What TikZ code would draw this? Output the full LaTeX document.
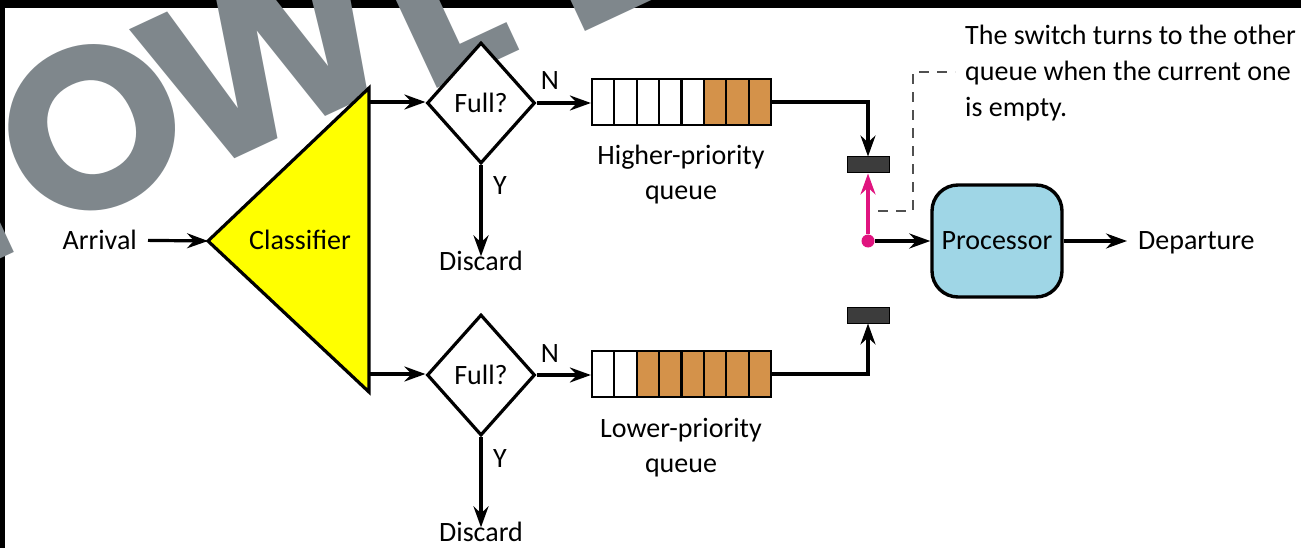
\documentclass[tikz,border=0pt]{standalone}
\usepackage{fontspec}
\setmainfont{Carlito}
\newfontfamily\wmfont{Poppins}
\usetikzlibrary{shapes.geometric,arrows.meta,calc}
\definecolor{wmgray}{HTML}{7F878C}
\definecolor{clsyellow}{HTML}{FFFF00}
\definecolor{qorange}{HTML}{D4924A}
\definecolor{procblue}{HTML}{9FD6E6}
\definecolor{swmag}{HTML}{E0147F}
\definecolor{blockgray}{HTML}{3C3C3C}
\definecolor{dashgray}{HTML}{505050}
\begin{document}
\begin{tikzpicture}[x=1pt,y=-1pt,
  lbl/.style={font=\fontsize{28}{36}\selectfont, inner sep=0pt},
  tip/.style={-{Stealth[length=21pt,width=15pt,inset=7pt]}},
  arw/.style={line width=3.2pt, tip},
  dia/.style={diamond, draw, line width=3.2pt, fill=white, minimum width=108pt, minimum height=121pt, inner sep=0pt, font=\fontsize{28}{34}\selectfont},
  queuebox/.style={draw, line width=2.2pt, minimum width=179pt, minimum height=46pt, inner sep=0pt},
  swblock/.style={draw=black, fill=blockgray, line width=1pt, minimum width=42pt, minimum height=16pt, inner sep=0pt},
  procbox/.style={draw, line width=3.4pt, fill=procblue, rounded corners=26pt, minimum width=130pt, minimum height=112pt, inner sep=0pt, font=\fontsize{28}{34}\selectfont},
  wm/.style={text=wmgray, font=\wmfont\bfseries\fontsize{230}{230}\selectfont, rotate=25, inner sep=0pt},
  dsh/.style={line width=2.4pt, draw=dashgray, dash pattern=on 10pt off 8pt}
]
\useasboundingbox (0,0) rectangle (1301,548);
\fill[white] (0,0) rectangle (1301,548);
\fill[black] (0,0) rectangle (1301,8);
\fill[black] (0,0) rectangle (5,548);
% watermark
\node[wm] (wmN) at (-85,210) {N};
\node[wm] (wmO) at (92,128) {O};
\node[wm] (wmW) at (268,54) {W};
\node[wm] (wmL) at (440,-2) {L};
\node[wm] (wmE) at (595,-62) {E};
% classifier
\coordinate (apex) at (208,241);
\draw[line width=3.2pt, fill=clsyellow, line join=miter] (369,88) -- (apex) -- (369,392) -- cycle;
\node[lbl, anchor=base] (cls) at (300,250) {Classifier};
\coordinate (clsU) at (369,102);
\coordinate (clsL) at (369,374);
\node[lbl, anchor=base east] (arr) at (137,250) {Arrival};
\draw[arw] ([xshift=11pt]arr.east) -- (apex);
% diamonds
\node[dia] (dU) at (481,103) {Full?};
\node[dia] (dL) at (481,375) {Full?};
\draw[arw] (clsU) -- (clsU -| dU.west);
\draw[arw] (clsL) -- (clsL -| dL.west);
% queues
\foreach \i in {5,6,7} \fill[qorange] (592+\i*22.375,79) rectangle (592+\i*22.375+22.375,125);
\foreach \i in {1,...,7} \draw[line width=2.2pt] (592+\i*22.375,79) -- (592+\i*22.375,125);
\node[queuebox] (hq) at (681.5,102) {};
\foreach \i in {2,...,7} \fill[qorange] (592+\i*22.375,351) rectangle (592+\i*22.375+22.375,397);
\foreach \i in {1,...,7} \draw[line width=2.2pt] (592+\i*22.375,351) -- (592+\i*22.375,397);
\node[queuebox] (lq) at (681.5,374) {};
\draw[arw] (dU.east) -- (dU.east -| hq.west);
\draw[arw] (dL.east) -- (dL.east -| lq.west);
\node[lbl, anchor=base] (nU) at (550,90) {N};
\node[lbl, anchor=base] (nL) at (550,362) {N};
% discard
\node[lbl, anchor=base] (discU) at (481,270) {Discard};
\node[lbl, anchor=base] (discL) at (481,541) {Discard};
\draw[arw] (dU.south) -- ([yshift=-6pt]discU.north);
\draw[arw] (dL.south) -- ([yshift=-6pt]discL.north);
\node[lbl, anchor=base west] (yU) at (493,195) {Y};
\node[lbl, anchor=base west] (yL) at (493,467) {Y};
% queue labels
\node[lbl, anchor=base] (hqa) at (681,165) {Higher-priority};
\node[lbl, anchor=base] (hqb) at (681,200) {queue};
\node[lbl, anchor=base] (lqa) at (681,437) {Lower-priority};
\node[lbl, anchor=base] (lqb) at (681,472) {queue};
% switch
\node[swblock] (swU) at (868,165) {};
\node[swblock] (swL) at (868,315) {};
\draw[arw] (hq.east) -| (swU.north);
\draw[arw] (lq.east) -| (swL.south);
\node[circle, fill=swmag, minimum size=13pt, inner sep=0pt] (dot) at (868,241) {};
\node[procbox] (proc) at (997,241) {Processor};
\draw[line width=3.2pt, swmag, tip] (dot) -- (swU.south);
\draw[arw] (dot) -- (proc.west);
\node[lbl, anchor=base west] (dep) at (1138,250) {Departure};
\draw[arw] (proc.east) -- ([xshift=-11pt]proc.east -| dep.west);
% note
\node[lbl, anchor=north west, align=left] (note) at (965,25) {The switch turns to the other\\queue when the current one\\is empty.};
\coordinate (d1) at (878,211);
\coordinate (d2) at (913,211);
\coordinate (d3) at (913,72);
\coordinate (d4) at (955,72);
\draw[dsh] (d1) -- (d2) -- (d3) -- (d4);
\end{tikzpicture}
\end{document}
